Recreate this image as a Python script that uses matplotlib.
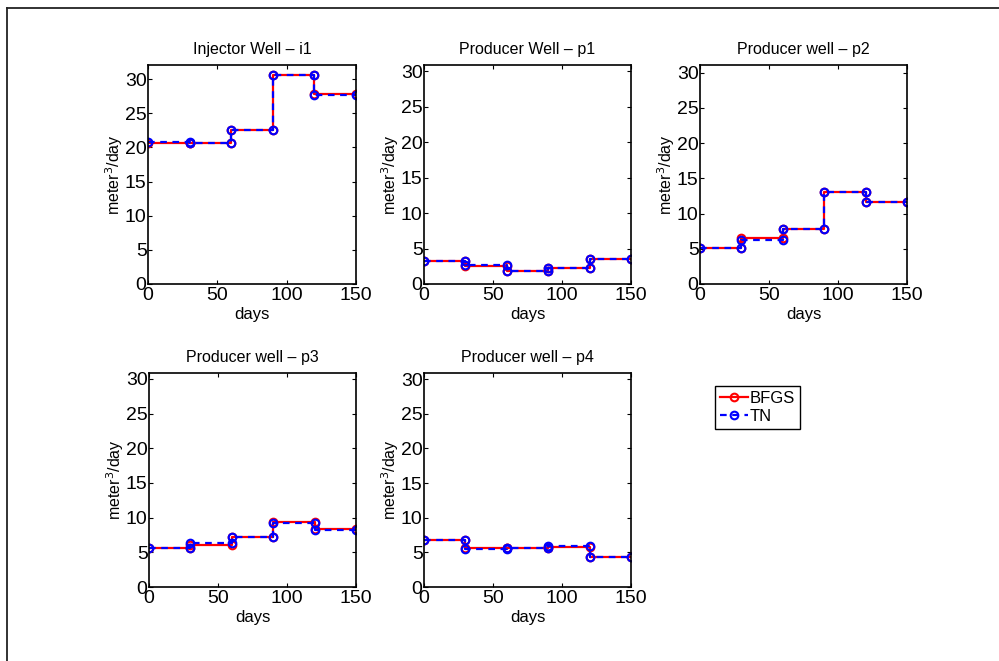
import numpy as np
import matplotlib
matplotlib.use("Agg")
import matplotlib.pyplot as plt
from matplotlib.lines import Line2D

plt.rcParams['font.family'] = ['Liberation Sans', 'DejaVu Sans']

# time step edges (days) and rates per control step
days = [0, 30, 60, 90, 120, 150]

titles = ["Injector Well \u2013 i1", "Producer Well \u2013 p1", "Producer well \u2013 p2",
          "Producer well \u2013 p3", "Producer well \u2013 p4"]

bfgs_i1 = [20.6, 20.6, 22.5, 30.55, 27.8]
tn_i1 = [20.85, 20.6, 22.5, 30.55, 27.65]

bfgs_p1 = [3.2, 2.5, 1.9, 2.3, 3.5]
tn_p1 = [3.2, 2.7, 1.9, 2.3, 3.5]

bfgs_p2 = [5.1, 6.6, 7.85, 13.1, 11.6]
tn_p2 = [5.1, 6.25, 7.85, 13.1, 11.6]

bfgs_p3 = [5.66, 6.0, 7.2, 9.35, 8.35]
tn_p3 = [5.66, 6.3, 7.2, 9.2, 8.25]

bfgs_p4 = [6.75, 5.7, 5.6, 5.8, 4.3]
tn_p4 = [6.75, 5.5, 5.6, 5.95, 4.3]

ylims = [32.05, 30.85, 31.1, 30.85, 30.9]

bfgs_all = [bfgs_i1, bfgs_p1, bfgs_p2, bfgs_p3, bfgs_p4]
tn_all = [tn_i1, tn_p1, tn_p2, tn_p3, tn_p4]

W, H = 999, 661
fig = plt.figure(figsize=(W / 100, H / 100), dpi=100)

# axes boxes in pixels: left, top, right, bottom
boxes = [(148, 65, 356, 284), (424, 65, 631, 284), (700, 65, 907, 284),
         (149, 373, 356, 587), (424, 373, 631, 587)]


def stepify(x, v):
    xs, ys = [], []
    for i in range(len(v)):
        xs += [x[i], x[i + 1]]
        ys += [v[i], v[i]]
    return xs, ys


handles = None
for k in range(5):
    l, t, r, b = boxes[k]
    ax = fig.add_axes([l / W, 1 - b / H, (r - l) / W, (b - t) / H])
    x1, y1 = stepify(days, bfgs_all[k])
    x2, y2 = stepify(days, tn_all[k])
    h1, = ax.plot(x1, y1, '-o', color='red', lw=1.6, ms=5.5, mfc='none', mew=1.5, label='BFGS')
    h2, = ax.plot(x2, y2, '--o', color='blue', lw=1.6, ms=5.5, mfc='none', mew=1.5,
                  dashes=(3, 2.5), label='TN')
    handles = [h1, h2]
    ax.set_xlim(0, 150)
    ax.set_ylim(0, ylims[k])
    ax.set_xticks([0, 50, 100, 150])
    ax.set_yticks([0, 5, 10, 15, 20, 25, 30])
    ax.tick_params(direction='in', top=True, right=True, length=3, width=0.8,
                   labelsize=14, pad=1)
    ax.tick_params(axis='x', pad=2)
    for s in ax.spines.values():
        s.set_linewidth(1.2)
    ax.set_title(titles[k], fontsize=11.5, pad=8)
    ax.set_xlabel('days', fontsize=12, labelpad=2)
    ax.set_ylabel('meter$^3$/day', fontsize=11.5, labelpad=0)

leg = fig.legend(handles, ['BFGS', 'TN'], loc='upper left',
                 bbox_to_anchor=(715 / W, 1 - 386 / H), fontsize=12,
                 handlelength=1.7, handletextpad=0.1, borderpad=0.3,
                 labelspacing=0.15, fancybox=False, framealpha=1,
                 edgecolor='black', borderaxespad=0)
leg.get_frame().set_linewidth(1.0)

# outer border lines (top and left)
fig.add_artist(Line2D([6.5 / W, 1], [1 - 8 / H, 1 - 8 / H], color='#222222', lw=1.3))
fig.add_artist(Line2D([6.5 / W, 6.5 / W], [0, 1 - 8 / H], color='#222222', lw=1.3))

fig.savefig('out.png', dpi=100)
